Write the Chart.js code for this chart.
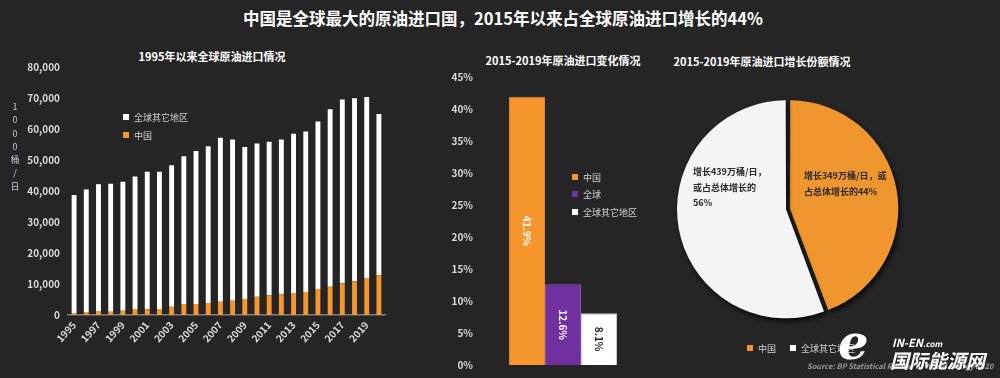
<!DOCTYPE html>
<html><head><meta charset="utf-8">
<script src="https://cdn.jsdelivr.net/npm/chart.js@4/dist/chart.umd.min.js"></script>
<style>
html,body{margin:0;padding:0;background:#252525;}
#wrap{position:relative;width:1000px;height:378px;background:#252525;overflow:hidden;font-family:"Noto Sans CJK SC","Noto Sans",sans-serif;}
.t{position:absolute;color:#fff;white-space:nowrap;line-height:1;}
.lg{position:absolute;color:#d0d0d0;font-size:9px;white-space:nowrap;line-height:1;}
.sq{display:inline-block;width:6px;height:6px;margin-right:5px;vertical-align:1px;}
canvas{position:absolute;}
</style></head><body>
<div id="wrap">
  <div class="t" style="left:0;width:1006px;text-align:center;top:10px;font-size:16.5px;font-weight:bold;">中国是全球最大的原油进口国，2015年以来占全球原油进口增长的44%</div>
  <div class="t" style="left:112px;width:200px;text-align:center;top:51px;font-size:11px;font-weight:bold;">1995年以来全球原油进口情况</div>
  <div class="t" style="left:463px;width:200px;text-align:center;top:55px;font-size:11px;font-weight:bold;">2015-2019年原油进口变化情况</div>
  <div class="t" style="left:662px;width:200px;text-align:center;top:56px;font-size:11px;font-weight:bold;">2015-2019年原油进口增长份额情况</div>

  <div style="position:absolute;left:0;top:0;width:1000px;height:378px;">
    <canvas id="c1" width="400" height="320" style="left:0;top:40px;width:400px;height:320px;"></canvas>
    <canvas id="c2" width="215" height="336" style="left:440px;top:40px;width:215px;height:336px;"></canvas>
    <canvas id="c3" width="340" height="280" style="left:660px;top:70px;width:340px;height:280px;"></canvas>
  </div>

  <div id="ytitle" style="position:absolute;left:9px;top:100px;width:12px;color:#c0c8d6;font-size:9px;text-align:center;line-height:13.3px;"></div>

  <div class="lg" style="left:123px;top:113px;"><span class="sq" style="background:#ffffff"></span>全球其它地区</div>
  <div class="lg" style="left:123px;top:131px;"><span class="sq" style="background:#F7962C"></span>中国</div>

  <div class="lg" style="left:572px;top:173px;"><span class="sq" style="background:#F7962C"></span>中国</div>
  <div class="lg" style="left:572px;top:190px;"><span class="sq" style="background:#7030A0"></span>全球</div>
  <div class="lg" style="left:572px;top:208px;"><span class="sq" style="background:#ffffff"></span>全球其它地区</div>

  <div class="lg" style="left:747px;top:344px;"><span class="sq" style="background:#F0962F"></span>中国<span style="display:inline-block;width:14px"></span><span class="sq" style="background:#ffffff"></span>全球其它地区</div>

  <div class="t" style="left:807px;top:362px;font-size:7.5px;font-style:italic;font-weight:bold;color:#9a9a9a;">Source: BP Statistical Review of World Energy 2020</div>
  <div class="t" style="left:838px;top:318px;font-size:48px;font-weight:bold;font-style:italic;font-family:'DejaVu Serif',serif;color:#fff;">e</div>
  <div class="t" style="left:892px;top:337px;font-size:11px;font-weight:bold;font-style:italic;color:#fff;">IN-EN<span style="font-size:8px">.com</span></div>
  <div class="t" style="left:890px;top:350px;font-size:19px;font-weight:bold;font-style:italic;color:#fff;">国际能源网</div>
</div>
<script>
// ---------- data ----------
const years = ['1995','1996','1997','1998','1999','2000','2001','2002','2003','2004','2005','2006','2007','2008','2009','2010','2011','2012','2013','2014','2015','2016','2017','2018','2019','2020'];
const chinaImports = [650,970,1290,1080,1400,1930,1830,1930,2690,3550,3550,3870,4300,4620,5160,5910,6340,6670,7100,7420,8390,9140,10210,10860,11940,12800];
const worldTotal = [38700,40500,42200,42300,43000,44700,46200,46200,48300,51200,52900,54400,57200,56600,54200,55300,55900,56600,58500,59200,62400,66400,69500,69900,70300,64800];
const restOfWorld = worldTotal.map((t, i) => t - chinaImports[i]);
const yTicksLeft = [0,10000,20000,30000,40000,50000,60000,70000,80000];
const yTitleChars = ['1','0','0','0','桶','/','日'];

const changeSeries = ['中国','全球','全球其它地区'];
const changeValues = [41.9, 12.6, 8.1];
const changeLabels = ['41.9%','12.6%','8.1%'];

const shareCategories = ['中国','全球其它地区'];
const shareValues = [349, 439];
const shareLabels = [
  ['增长349万桶/日，或','占总体增长的44%'],
  ['增长439万桶/日，','或占总体增长的','56%']
];

// ---------- styling ----------
const FONT = '"Noto Sans CJK SC","Noto Sans",sans-serif';
const ORANGE = '#F7962C', PURPLE = '#7030A0', WHITE = '#FFFFFF';
const TICK = '#d9d9d9';
Chart.defaults.font.family = FONT;
Chart.defaults.animation = false;

document.getElementById('ytitle').innerHTML = yTitleChars.map(c => '<div>' + c + '</div>').join('');

// ---------- left chart ----------
new Chart(document.getElementById('c1'), {
  type: 'bar',
  data: {
    labels: years,
    datasets: [
      { label: '中国', data: chinaImports, backgroundColor: ORANGE, borderWidth: 0, barPercentage: 0.5, categoryPercentage: 0.8 },
      { label: '全球其它地区', data: restOfWorld, backgroundColor: WHITE, borderWidth: 0, barPercentage: 0.5, categoryPercentage: 0.8 }
    ]
  },
  options: {
    responsive: false, maintainAspectRatio: false,
    layout: { padding: { top: 27, right: 15, left: 0, bottom: 0 } },
    plugins: { legend: { display: false }, tooltip: { enabled: false } },
    scales: {
      x: {
        stacked: true,
        grid: { display: false, drawTicks: false },
        border: { display: true, color: '#7f7f7f', width: 1.5 },
        ticks: {
          autoSkip: false, maxRotation: 48, minRotation: 48, padding: 4,
          color: TICK, font: { size: 10, weight: 'bold' },
          callback: (v, i) => (i % 2 === 0 ? years[i] : '')
        },
        afterFit: s => { s.height = 45; }
      },
      y: {
        stacked: true, min: 0, max: 80000,
        afterBuildTicks: s => { s.ticks = yTicksLeft.map(v => ({ value: v })); },
        grid: { display: false, drawTicks: false },
        border: { display: false },
        ticks: { color: TICK, font: { size: 10, weight: 'bold' }, padding: 8,
          callback: v => v.toLocaleString('en-US') },
        afterFit: s => { s.width = 68; }
      }
    }
  }
});

// ---------- middle chart ----------
const barLabelPlugin = {
  id: 'barLabels',
  afterDatasetsDraw(chart) {
    const ctx = chart.ctx;
    chart.data.datasets.forEach((ds, di) => {
      const meta = chart.getDatasetMeta(di);
      meta.data.forEach(bar => {
        const cx = bar.x, cy = (bar.y + bar.base) / 2;
        ctx.save();
        ctx.translate(cx, cy);
        ctx.rotate(Math.PI / 2);
        ctx.font = 'bold 10px ' + FONT;
        ctx.fillStyle = di === 2 ? '#222222' : '#ffffff';
        ctx.textAlign = 'center';
        ctx.textBaseline = 'middle';
        ctx.fillText(changeLabels[di], 0, 0);
        ctx.restore();
      });
    });
  }
};
new Chart(document.getElementById('c2'), {
  type: 'bar',
  data: {
    labels: [''],
    datasets: changeSeries.map((s, i) => ({
      label: s, data: [changeValues[i]],
      backgroundColor: [ORANGE, PURPLE, WHITE][i],
      borderColor: ['#e08520', '#8a55b5', '#cccccc'][i], borderWidth: 1,
      barPercentage: 1, categoryPercentage: 0.635
    }))
  },
  options: {
    responsive: false, maintainAspectRatio: false,
    layout: { padding: { top: 37, right: 7, left: 0, bottom: 6 } },
    plugins: { legend: { display: false }, tooltip: { enabled: false } },
    scales: {
      x: { display: false },
      y: {
        min: 0, max: 45,
        ticks: { stepSize: 5, color: TICK, font: { size: 10, weight: 'bold' }, padding: 5, callback: v => v + '%' },
        grid: { display: false, drawTicks: false },
        border: { display: false },
        afterFit: s => { s.width = 38; }
      }
    }
  },
  plugins: [barLabelPlugin]
});

// ---------- pie chart ----------
const pieShadow = {
  id: 'pieShadow',
  beforeDatasetsDraw(chart) {
    const ctx = chart.ctx; ctx.save();
    ctx.shadowColor = 'rgba(0,0,0,0.75)'; ctx.shadowBlur = 5; ctx.shadowOffsetX = 2; ctx.shadowOffsetY = 3;
  },
  afterDatasetsDraw(chart) {
    const ctx = chart.ctx; ctx.restore();
    const meta = chart.getDatasetMeta(0);
    const cx = meta.data[0].x, cy = meta.data[0].y;
    ctx.save();
    ctx.font = 'bold 9px ' + FONT;
    ctx.textAlign = 'left'; ctx.textBaseline = 'middle';
    ctx.fillStyle = '#2a2a2a';
    const pos = [[16, -33], [-95, -37]];
    shareLabels.forEach((lines, i) => {
      lines.forEach((ln, j) => ctx.fillText(ln, cx + pos[i][0], cy + pos[i][1] + j * 15.5));
    });
    ctx.restore();
  }
};
new Chart(document.getElementById('c3'), {
  type: 'pie',
  data: {
    labels: shareCategories,
    datasets: [{ data: shareValues, backgroundColor: ['#F0962F', '#F4F4F4'], borderWidth: 0, offset: 8, radius: 107 }]
  },
  options: {
    responsive: false, maintainAspectRatio: false,
    layout: { padding: { top: 2, right: 84, left: 0, bottom: 4 } },
    plugins: { legend: { display: false }, tooltip: { enabled: false } }
  },
  plugins: [pieShadow]
});
</script>
</body></html>
